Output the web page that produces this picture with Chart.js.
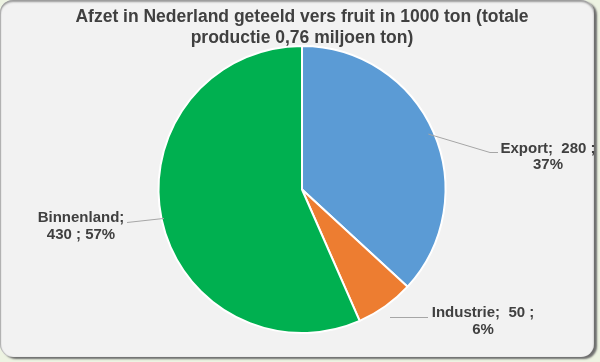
<!DOCTYPE html>
<html>
<head>
<meta charset="utf-8">
<script src="https://cdn.jsdelivr.net/npm/chart.js@4"></script>
<style>
  html, body { margin: 0; padding: 0; width: 600px; height: 362px; overflow: hidden; background: #edf3e2; }
  #frame {
    position: absolute; left: 0; top: 0; width: 594px; height: 357px;
    background: #f2f2f2; border-radius: 13px;
    box-shadow: 3px 2px 2px #6e6e6e, inset 0 2px 2px #9a9a9a, inset 1px 0 1px #b5b5b5;
  }
  #wrap { position: absolute; left: 0; top: 0; width: 600px; height: 362px; }
</style>
</head>
<body>
<div id="frame"></div>
<div id="wrap"><canvas id="fruitChart"></canvas></div>
<script>
const categories = ["Export", "Industrie", "Binnenland"];
const values = [280, 50, 430];
const percentLabels = ["37%", "6%", "57%"];
const sliceColors = ["#5b9bd5", "#ed7d31", "#00b050"];

// label text lines per slice
const labelLines = [
  [categories[0] + ";  " + values[0] + " ;", percentLabels[0]],
  [categories[1] + ";  " + values[1] + " ;", percentLabels[1]],
  [categories[2] + ";", values[2] + " ; " + percentLabels[2]],
];

// where each label sits, relative to pie centre (styling only)
const labelPlacement = [
  { dx: 246, dy: -41, gap: 16, startR: 138, elbowDx: 188, elbowDy: -37, endDx: 196 },
  { dx: 181, dy: 123, gap: 17, startR: 150, elbowDx: 90, elbowDy: 128, endDx: 126 },
  { dx: -221, dy: 28, gap: 17, startR: 141, elbowDx: -175, elbowDy: 33, endDx: -175 },
];

const pieLabels = {
  id: "pieLabels",
  afterDatasetsDraw(chart) {
    const ctx = chart.ctx;
    const arcs = chart.getDatasetMeta(0).data;
    ctx.save();
    arcs.forEach((arc, i) => {
      const p = labelPlacement[i];
      const mid = (arc.startAngle + arc.endAngle) / 2;
      const sx = arc.x + Math.cos(mid) * p.startR;
      const sy = arc.y + Math.sin(mid) * p.startR;

      ctx.strokeStyle = "#a6a6a6";
      ctx.lineWidth = 1;
      ctx.beginPath();
      if (i === 1) {
        ctx.moveTo(arc.x + p.elbowDx - 2, arc.y + p.elbowDy);
      } else {
        ctx.moveTo(sx, sy);
      }
      ctx.lineTo(arc.x + p.elbowDx, arc.y + p.elbowDy);
      ctx.lineTo(arc.x + p.endDx, arc.y + p.elbowDy);
      ctx.stroke();

      ctx.fillStyle = "#404040";
      ctx.font = "bold 15px 'Liberation Sans', Arial, sans-serif";
      ctx.textAlign = "center";
      ctx.textBaseline = "middle";
      labelLines[i].forEach((line, k) => {
        ctx.fillText(line, arc.x + p.dx, arc.y + p.dy + k * p.gap);
      });
    });
    ctx.restore();
  },
};

document.addEventListener("DOMContentLoaded", () => {
  const canvas = document.getElementById("fruitChart");

  new Chart(canvas, {
    type: "pie",
    data: {
      labels: categories,
      datasets: [
        {
          data: values,
          backgroundColor: sliceColors,
          borderColor: "#ffffff",
          borderWidth: 2,
        },
      ],
    },
    options: {
      responsive: true,
      maintainAspectRatio: false,
      animation: false,
      layout: { padding: { top: 0, left: 4, right: 0, bottom: 28 } },
      plugins: {
        legend: { display: false },
        tooltip: { enabled: false },
        title: {
          display: true,
          text: [
            "Afzet in Nederland geteeld vers fruit in 1000 ton (totale",
            "productie 0,76 miljoen ton)",
          ],
          color: "#404040",
          font: { family: "'Liberation Sans', Arial, sans-serif", size: 17.5, weight: "bold" },
          padding: { top: 7, bottom: -4 },
          lineHeight: 1.2,
        },
      },
    },
    plugins: [pieLabels],
  });
});
</script>
</body>
</html>
